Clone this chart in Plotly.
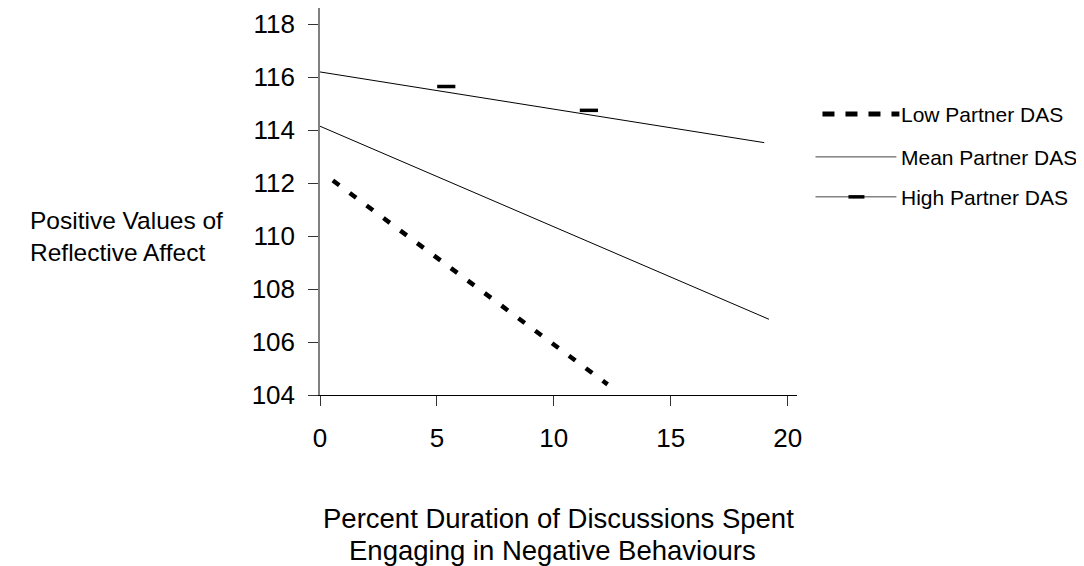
import plotly.graph_objects as go

# ---- data ----
low_x = [0.55, 12.3]
low_y = [112.1, 104.4]
mean_x = [0.0, 19.2]
mean_y = [114.15, 106.86]
high_x = [0.0, 19.0]
high_y = [116.2, 113.53]
high_marker_x = [5.4, 11.5]
high_marker_y = [115.65, 114.75]

x_ticks = [0, 5, 10, 15, 20]
y_ticks = [104, 106, 108, 110, 112, 114, 116, 118]

series_names = ["Low Partner DAS", "Mean Partner DAS", "High Partner DAS"]
y_title_lines = ["Positive Values of", "Reflective Affect"]
x_title_lines = ["Percent Duration of Discussions Spent", "Engaging in Negative Behaviours"]

FONT = "Liberation Sans, Arial, sans-serif"
OFF = 8                      # page body margin
W, H = 1084 - OFF, 566 - OFF
REF_L, REF_R = 320, 797.5    # page pixel of x=0 and x=20.4
REF_B, REF_T = 395.3, 8.0    # page pixel of y=104 and top of axis
PX_PER_Y = 26.5
y_top = 104 + (REF_B - REF_T) / PX_PER_Y

def px_x(p):
    return (p - REF_L) / (REF_R - REF_L)

def px_y(p):
    return (REF_B - p) / (REF_B - REF_T)

fig = go.Figure()
fig.add_trace(go.Scatter(x=low_x, y=low_y, mode="lines", name=series_names[0],
                         line=dict(color="black", width=4.5, dash="8px,13px"),
                         showlegend=False))
fig.add_trace(go.Scatter(x=mean_x, y=mean_y, mode="lines", name=series_names[1],
                         line=dict(color="black", width=1), showlegend=False))
fig.add_trace(go.Scatter(x=high_x, y=high_y, mode="lines", name=series_names[2],
                         line=dict(color="black", width=1), showlegend=False))
fig.add_trace(go.Scatter(x=high_marker_x, y=high_marker_y, mode="markers", name=series_names[2],
                         marker=dict(symbol="line-ew", size=13, color="black",
                                     line=dict(width=3.5, color="black")),
                         showlegend=False))

# ---- manual legend ----
shapes = []
annotations = []
legend_rows = [(114, "low"), (157, "mean"), (197, "high")]
for (ypx, kind), name in zip(legend_rows, series_names):
    if kind == "low":
        shapes.append(dict(type="line", xref="paper", yref="paper",
                           x0=px_x(823), x1=px_x(900), y0=px_y(ypx), y1=px_y(ypx),
                           line=dict(color="black", width=5, dash="12px,11px")))
    else:
        shapes.append(dict(type="line", xref="paper", yref="paper",
                           x0=px_x(816), x1=px_x(897), y0=px_y(ypx), y1=px_y(ypx),
                           line=dict(color="#444", width=1)))
    if kind == "high":
        shapes.append(dict(type="line", xref="paper", yref="paper",
                           x0=px_x(849), x1=px_x(865), y0=px_y(ypx), y1=px_y(ypx),
                           line=dict(color="black", width=3.5)))
    annotations.append(dict(text=name, xref="paper", yref="paper",
                            x=px_x(900), y=px_y(ypx + 1), xanchor="left", yanchor="middle",
                            showarrow=False, font=dict(family=FONT, size=21, color="black")))

annotations.append(dict(text="<br>".join(y_title_lines), xref="paper", yref="paper",
                        x=px_x(28), y=px_y(237), xanchor="left", yanchor="middle",
                        align="left", showarrow=False,
                        font=dict(family=FONT, size=24.5, color="black")))
for line, ypx, xc in zip(x_title_lines, [519, 551], [559, 553]):
    annotations.append(dict(text=line, xref="paper", yref="paper",
                            x=px_x(xc), y=px_y(ypx), xanchor="center", yanchor="middle",
                            showarrow=False, font=dict(family=FONT, size=27.5, color="black")))

fig.update_layout(
    width=W, height=H,
    margin=dict(l=REF_L - OFF, r=W - (REF_R - OFF), t=REF_T - OFF, b=H - (REF_B - OFF),
                autoexpand=False),
    paper_bgcolor="white", plot_bgcolor="white",
    font=dict(family=FONT, color="black"),
    shapes=shapes, annotations=annotations,
    xaxis=dict(range=[0, 20.4], tickvals=x_ticks, ticks="outside", ticklen=10,
               tickcolor="#333", showline=True, linecolor="black", linewidth=1,
               showgrid=False, zeroline=False, tickfont=dict(family=FONT, size=26),
               ticklabelstandoff=10),
    yaxis=dict(range=[104, y_top], tickvals=y_ticks, ticks="outside", ticklen=10,
               tickcolor="#333", showline=True, linecolor="#808080", linewidth=1.5,
               showgrid=False, zeroline=False, tickfont=dict(family=FONT, size=26),
               ticklabelstandoff=8),
)

fig.write_html("out.html")
